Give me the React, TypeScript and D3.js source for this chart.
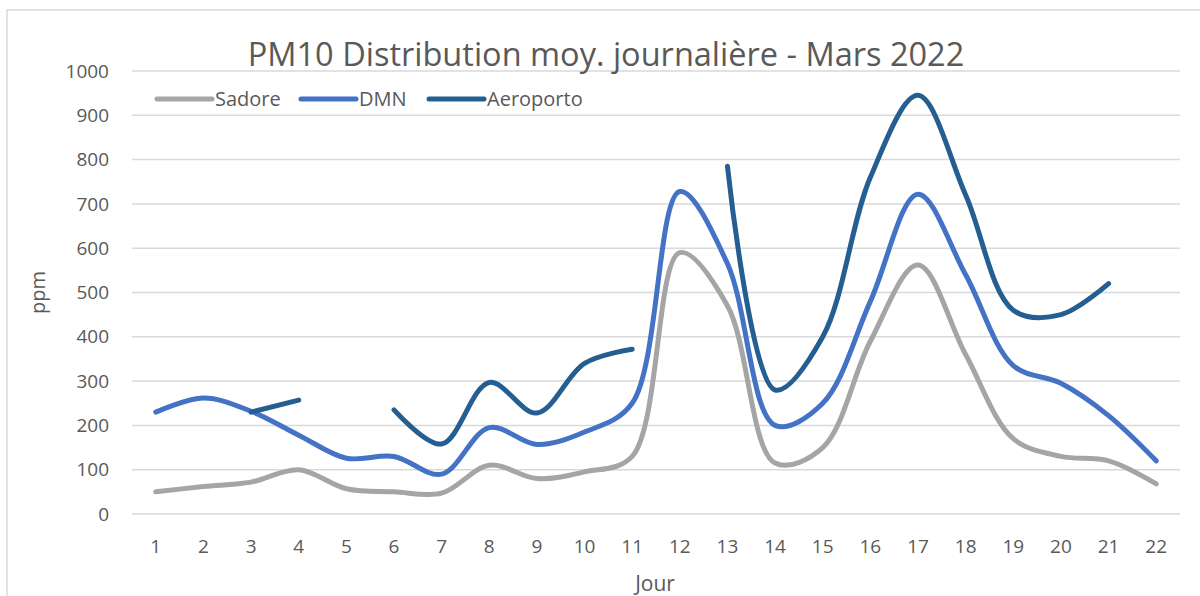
import * as d3 from 'd3'

const W = 1200
const H = 596
const M = { top: 71, right: 20, bottom: 82, left: 132 }

const days = d3.range(1, 23).map(String)
const sadore = [50, 62, 72, 100, 57, 50, 47, 110, 80, 95, 130, 590, 470, 115, 150, 390, 562, 360, 170, 130, 120, 68]
const dmn = [230, 262, 232, 178, 126, 130, 90, 195, 157, 185, 250, 728, 565, 200, 250, 480, 722, 540, 335, 295, 222, 120]
const aeroporto = [null, null, 230, 257, null, 235, 158, 297, 228, 340, 372, null, 785, 280, 400, 760, 945, 720, 460, 450, 520, null]
const yTicks = d3.range(0, 1001, 100)

const series = [
  { name: 'Sadore', values: sadore, color: '#a5a5a5' },
  { name: 'DMN', values: dmn, color: '#4472c4' },
  { name: 'Aeroporto', values: aeroporto, color: '#255e91' },
]

const TEXT = '#595959'
const FONT = 'Open Sans, sans-serif'

export default function App() {
  const x = d3.scalePoint().domain(days).range([M.left + 23.8, W - M.right - 23.8])
  const y = d3.scaleLinear().domain([0, 1000]).range([H - M.bottom, M.top])

  const line = d3
    .line<number | null>()
    .defined((d) => d != null)
    .x((_, i) => x(days[i]) ?? 0)
    .y((d) => y(d ?? 0))
    .curve(d3.curveCatmullRom.alpha(0.5))

  const legendX = [157, 301, 429]

  return (
    <svg width={W} height={H} style={{ position: 'absolute', left: 0, top: 0, fontFamily: FONT }}>
      <rect x={0} y={0} width={W} height={H} fill="#fff" />
      <rect x={7} y={10} width={W + 20} height={H + 20} fill="none" stroke="#d9d9d9" strokeWidth={1.5} />

      {yTicks.map((t) => (
        <g key={t}>
          <line x1={M.left} x2={W - M.right} y1={y(t)} y2={y(t)} stroke="#d9d9d9" strokeWidth={1.5} />
          <text x={109} y={y(t)} dy="0.35em" textAnchor="end" fontSize={19} fill={TEXT}>
            {t}
          </text>
        </g>
      ))}

      {days.map((d) => (
        <text key={d} x={x(d)} y={546} dy="0.35em" textAnchor="middle" fontSize={19} fill={TEXT}>
          {d}
        </text>
      ))}

      {series.map((s) => (
        <path
          key={s.name}
          d={line(s.values) ?? ''}
          fill="none"
          stroke={s.color}
          strokeWidth={5}
          strokeLinecap="round"
          strokeLinejoin="round"
        />
      ))}

      <text x={606} y={55} dy="0.35em" textAnchor="middle" fontSize={32.5} fill={TEXT}>
        PM10 Distribution moy. journalière - Mars 2022
      </text>

      {series.map((s, i) => (
        <g key={s.name}>
          <line
            x1={legendX[i]}
            x2={legendX[i] + 55}
            y1={99}
            y2={99}
            stroke={s.color}
            strokeWidth={5}
            strokeLinecap="round"
          />
          <text x={legendX[i] + 58} y={99} dy="0.35em" fontSize={20} fill={TEXT}>
            {s.name}
          </text>
        </g>
      ))}

      <text
        transform={`translate(38, ${y(500)}) rotate(-90)`}
        dy="0.35em"
        textAnchor="middle"
        fontSize={20}
        fill={TEXT}
      >
        ppm
      </text>
      <text x={655} y={584} dy="0.35em" textAnchor="middle" fontSize={21} fill={TEXT}>
        Jour
      </text>
    </svg>
  )
}
